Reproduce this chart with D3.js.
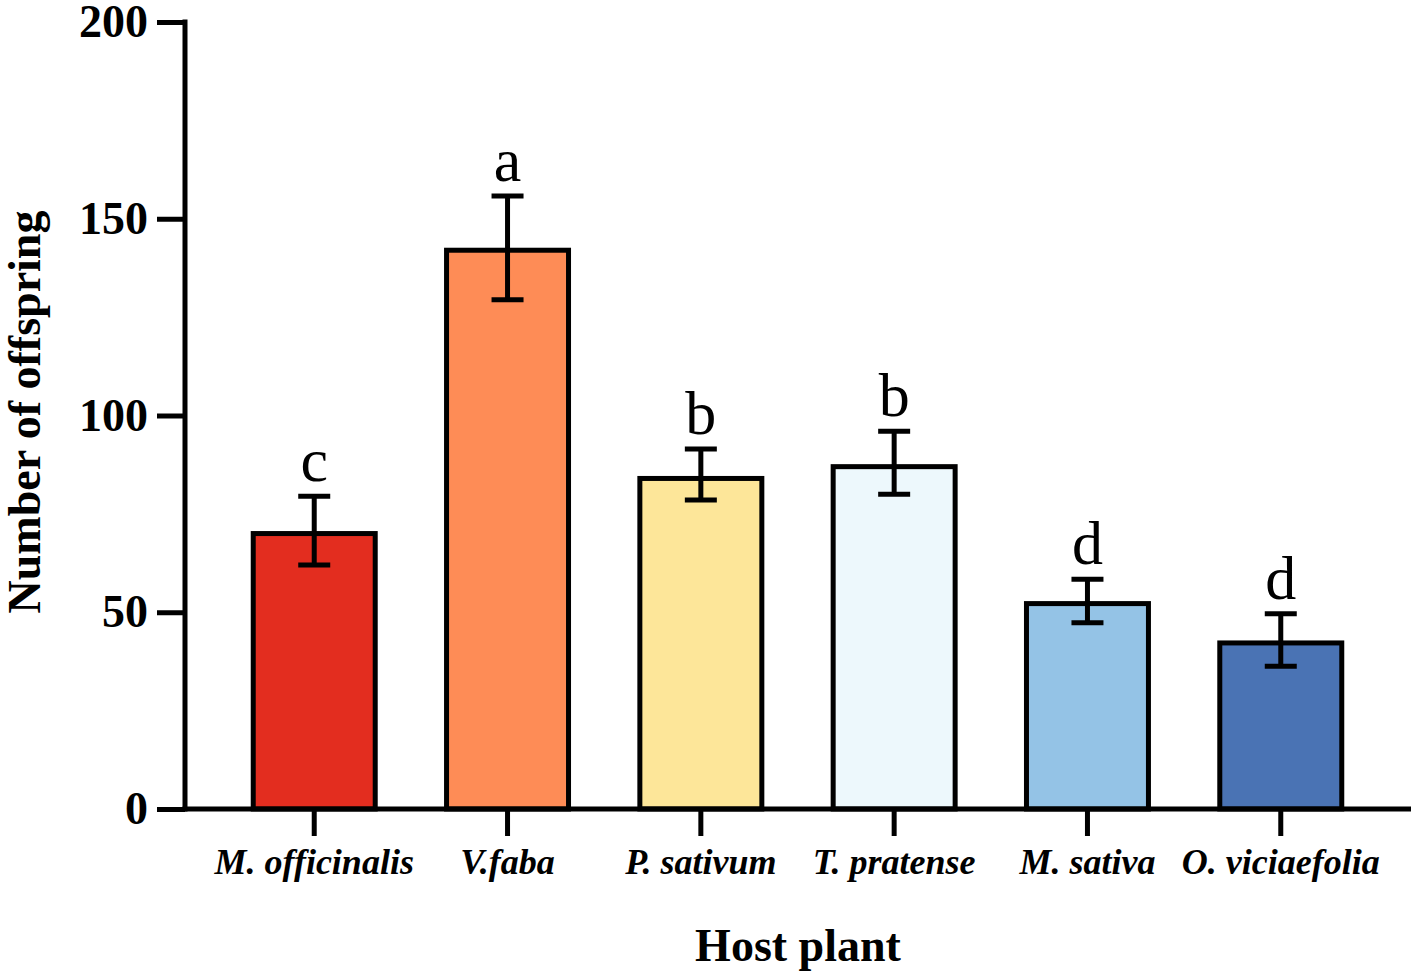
<!DOCTYPE html>
<html>
<head>
<meta charset="utf-8">
<script src="https://cdn.jsdelivr.net/npm/d3@7"></script>
<style>
  body { margin: 0; background: #fff; }
  svg { display: block; }
</style>
</head>
<body>
<svg width="1417" height="975"></svg>
<script>
// Chart data.
const hosts = ["M. officinalis", "V.faba", "P. sativum", "T. pratense", "M. sativa", "O. viciaefolia"];
const means = [70, 142, 84, 87, 52.2, 42.2];
const errLow = [62, 129.4, 78.5, 80, 47.3, 36.3];
const errHigh = [79.5, 155.8, 91.5, 96, 58.4, 49.6];
const letters = ["c", "a", "b", "b", "d", "d"];
const colors = ["#e32d1f", "#fe8c56", "#fde699", "#edf8fc", "#94c3e6", "#4a73b4"];
const yTicks = [0, 50, 100, 150, 200];

const svg = d3.select("svg");
const font = "'Liberation Serif', 'Times New Roman', serif";

// Scales.
const x = d3.scaleBand()
    .domain(hosts)
    .range([185, 1410])
    .paddingInner(0.369)
    .paddingOuter(0.353);

const y = d3.scaleLinear()
    .domain([0, 200])
    .range([809, 22]);

const rows = hosts.map((h, i) => ({
    host: h, mean: means[i], lo: errLow[i], hi: errHigh[i],
    letter: letters[i], color: colors[i]
}));

// Bars.
svg.append("g")
    .selectAll("rect")
    .data(rows)
    .join("rect")
    .attr("x", d => x(d.host))
    .attr("y", d => y(d.mean))
    .attr("width", x.bandwidth())
    .attr("height", d => y(0) - y(d.mean))
    .attr("fill", d => d.color)
    .attr("stroke", "#000")
    .attr("stroke-width", 5);

// Error bars.
const err = svg.append("g")
    .attr("stroke", "#000")
    .attr("stroke-width", 5);

rows.forEach(d => {
    const cx = x(d.host) + x.bandwidth() / 2;
    err.append("line")
        .attr("x1", cx).attr("x2", cx)
        .attr("y1", y(d.hi)).attr("y2", y(d.lo));
    err.append("line")
        .attr("x1", cx - 16).attr("x2", cx + 16)
        .attr("y1", y(d.hi)).attr("y2", y(d.hi));
    err.append("line")
        .attr("x1", cx - 16).attr("x2", cx + 16)
        .attr("y1", y(d.lo)).attr("y2", y(d.lo));
});

// Significance letters.
svg.append("g")
    .selectAll("text")
    .data(rows)
    .join("text")
    .attr("x", d => x(d.host) + x.bandwidth() / 2)
    .attr("y", d => y(d.hi) - 15)
    .attr("text-anchor", "middle")
    .style("font-family", font)
    .style("font-size", "62px")
    .text(d => d.letter);

// Y axis.
const yAxis = svg.append("g")
    .attr("transform", "translate(185,0)")
    .call(d3.axisLeft(y).tickValues(yTicks).tickSize(28).tickPadding(9));

// X axis.
const xAxis = svg.append("g")
    .attr("transform", `translate(0,${y(0)})`)
    .call(d3.axisBottom(x).tickSize(27).tickPadding(12));

[yAxis, xAxis].forEach(g => {
    g.select(".domain").remove();
    g.selectAll(".tick line").attr("stroke", "#000").attr("stroke-width", 5);
});

yAxis.selectAll(".tick text")
    .attr("fill", "#000")
    .style("font-family", font)
    .style("font-weight", "bold")
    .style("font-size", "46px");

xAxis.selectAll(".tick text")
    .attr("fill", "#000")
    .style("font-family", font)
    .style("font-weight", "bold")
    .style("font-style", "italic")
    .style("font-size", "36px");

// Axis lines drawn on top so they cover the bar bases.
svg.append("line")
    .attr("x1", 185).attr("x2", 185)
    .attr("y1", y(200) - 2.5).attr("y2", y(0) + 2.5)
    .attr("stroke", "#000").attr("stroke-width", 5);
svg.append("line")
    .attr("x1", 182.5).attr("x2", 1411)
    .attr("y1", y(0)).attr("y2", y(0))
    .attr("stroke", "#000").attr("stroke-width", 5);

// Axis titles.
svg.append("text")
    .attr("transform", "translate(40,412) rotate(-90)")
    .attr("text-anchor", "middle")
    .style("font-family", font)
    .style("font-weight", "bold")
    .style("font-size", "46px")
    .text("Number of offspring");

svg.append("text")
    .attr("x", 798)
    .attr("y", 961)
    .attr("text-anchor", "middle")
    .style("font-family", font)
    .style("font-weight", "bold")
    .style("font-size", "46px")
    .text("Host plant");
</script>
</body>
</html>
